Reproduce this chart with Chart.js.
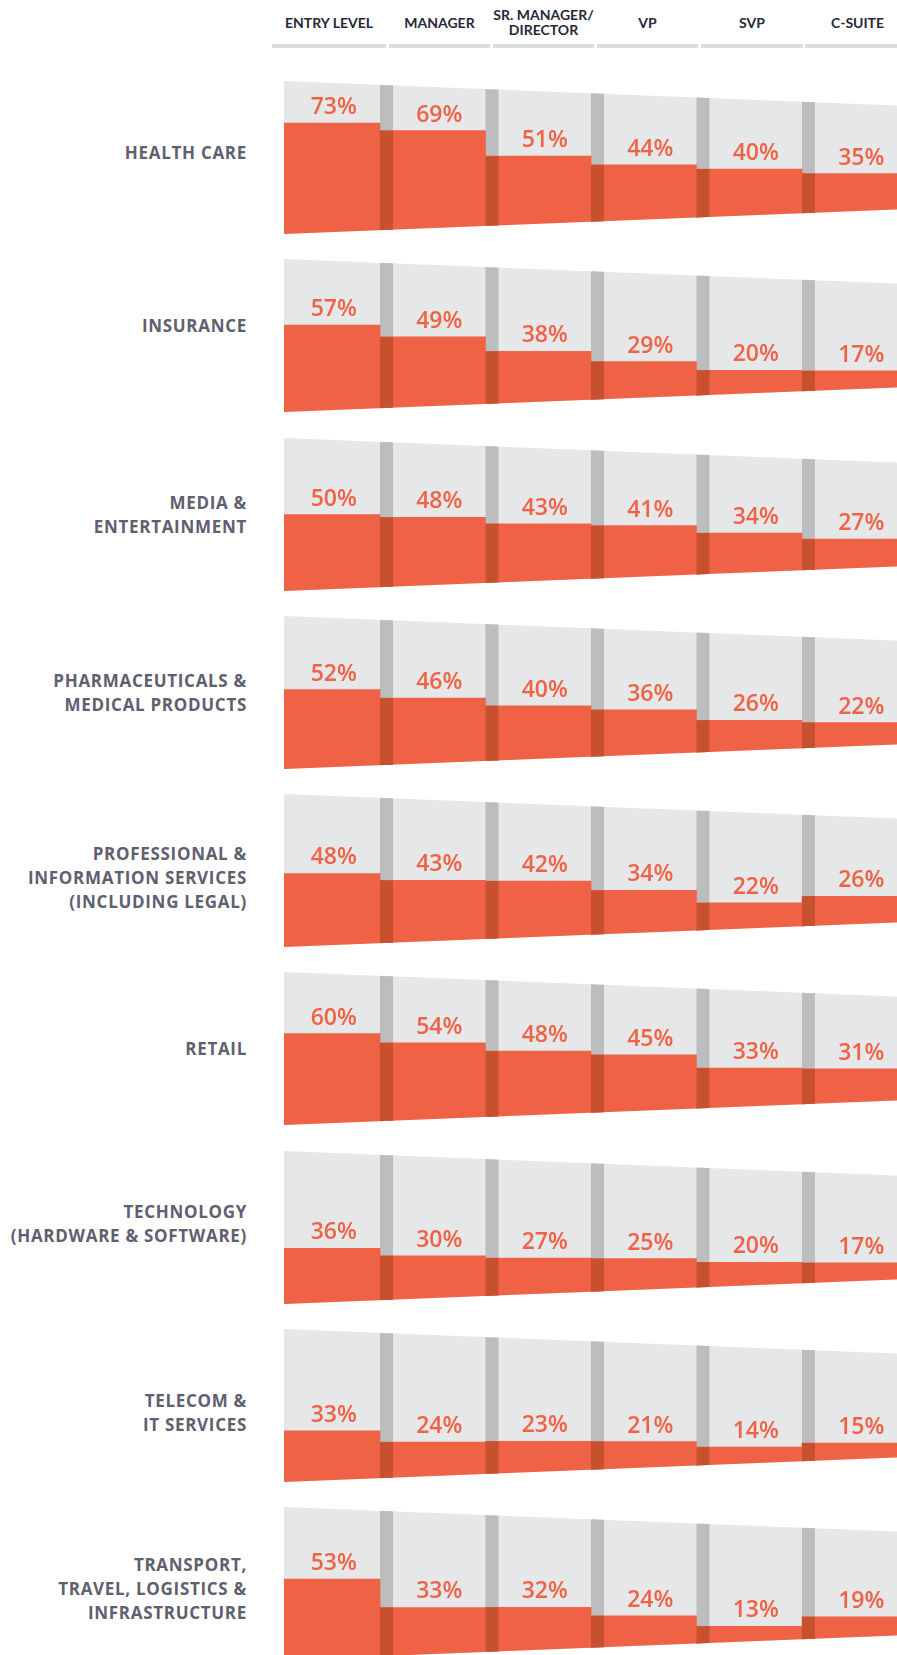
<!DOCTYPE html>
<html>
<head>
<meta charset="utf-8">
<script src="https://cdn.jsdelivr.net/npm/chart.js@4.4.0/dist/chart.umd.min.js"></script>
<style>
  html, body { margin: 0; padding: 0; background: #fff; }
  body { position: relative; width: 897px; height: 1655px; overflow: hidden; }
  .hdr { position: absolute; top: 0; height: 48px; }
  .hdr .txt {
    height: 44px; display: flex; align-items: center; justify-content: center; text-align: center;
    font: 700 14px/15px Lato, "Open Sans", sans-serif; color: #262939;
  }
  .hdr .bar { height: 3.5px; background: #dcddde; }
  .ind {
    position: absolute; right: 650px; text-align: right; white-space: nowrap;
    font: 700 17px/24px "Open Sans", sans-serif; letter-spacing: 0.7px; color: #5e6070;
    transform: translateY(-50%);
  }
  canvas.row { position: absolute; left: 0; }
</style>
</head>
<body>
<script>
// column headers and industry names
const levels = [['ENTRY LEVEL'], ['MANAGER'], ['SR. MANAGER/', 'DIRECTOR'], ['VP'], ['SVP'], ['C-SUITE']];
const industries = [
  ['HEALTH CARE'],
  ['INSURANCE'],
  ['MEDIA &', 'ENTERTAINMENT'],
  ['PHARMACEUTICALS &', 'MEDICAL PRODUCTS'],
  ['PROFESSIONAL &', 'INFORMATION SERVICES', '(INCLUDING LEGAL)'],
  ['RETAIL'],
  ['TECHNOLOGY', '(HARDWARE & SOFTWARE)'],
  ['TELECOM &', 'IT SERVICES'],
  ['TRANSPORT,', 'TRAVEL, LOGISTICS &', 'INFRASTRUCTURE']
];

// % per level, one array per industry
const healthCare = [73, 69, 51, 44, 40, 35];
const insurance = [57, 49, 38, 29, 20, 17];
const mediaEntertainment = [50, 48, 43, 41, 34, 27];
const pharma = [52, 46, 40, 36, 26, 22];
const professionalServices = [48, 43, 42, 34, 22, 26];
const retail = [60, 54, 48, 45, 33, 31];
const technology = [36, 30, 27, 25, 20, 17];
const telecom = [33, 24, 23, 21, 14, 15];
const transport = [53, 33, 32, 24, 13, 19];

const rows = [healthCare, insurance, mediaEntertainment, pharma, professionalServices,
  retail, technology, telecom, transport];

// layout
const ROW_TOP = 81, ROW_STEP = 178.25, PIPE_H = 153;
const CANVAS_W = 910, AREA_LEFT = 274.5, SLOT_W = 105.5;
const PIPE_INSET = 9.5, TAPER = 0.04, SEP_W = 13;
const labelNudge = [-5, -10, 0, 0, 7, 0, -4, 7, 5];
const GRAY = '#e6e7e8', GRAY_DARK = '#bcbdbf', ORANGE = '#f06245', ORANGE_DARK = '#c7512f';

// header
const hdrLefts = [272, 389, 493, 597, 701, 805];
const hdrWidths = [114, 101, 101, 101, 102, 105];
levels.forEach((lines, i) => {
  const d = document.createElement('div');
  d.className = 'hdr';
  d.style.left = hdrLefts[i] + 'px';
  d.style.width = hdrWidths[i] + 'px';
  d.innerHTML = `<div class="txt">${lines.join('<br>')}</div><div class="bar"></div>`;
  document.body.appendChild(d);
});

function pipeEdges(chart) {
  const a = chart.chartArea;
  const ys = chart.scales.y;
  const xL = a.left + PIPE_INSET, xR = a.right;
  const top = x => ys.getPixelForValue(100) + TAPER * (x - xL);
  const bot = x => ys.getPixelForValue(0) - TAPER * (x - xL);
  return { xL, xR, top, bot };
}

function tracePipe(ctx, p) {
  ctx.beginPath();
  ctx.moveTo(p.xL, p.top(p.xL));
  ctx.lineTo(p.xR, p.top(p.xR));
  ctx.lineTo(p.xR, p.bot(p.xR));
  ctx.lineTo(p.xL, p.bot(p.xL));
  ctx.closePath();
}

// top pixel of the orange bar for level i
function barTop(chart, i) {
  const v = chart.data.datasets[i].data[i];
  return chart.scales['y' + i].getPixelForValue(v);
}

const pipePlugin = {
  id: 'pipe',
  beforeDatasetsDraw(chart) {
    const ctx = chart.ctx;
    const p = pipeEdges(chart);
    ctx.save();
    tracePipe(ctx, p);
    ctx.fillStyle = GRAY;
    ctx.fill();
    ctx.clip();
    // darker flange at the start of each level after the first
    ctx.fillStyle = GRAY_DARK;
    for (let i = 1; i < levels.length; i++) {
      const el = chart.getDatasetMeta(i).data[i];
      const x = el.x - el.width / 2;
      ctx.fillRect(x, chart.chartArea.top, SEP_W, chart.chartArea.height);
    }
  },
  afterDatasetsDraw(chart) {
    const ctx = chart.ctx;
    ctx.fillStyle = ORANGE_DARK;
    for (let i = 1; i < levels.length; i++) {
      const el = chart.getDatasetMeta(i).data[i];
      const x = el.x - el.width / 2;
      const y = barTop(chart, i);
      ctx.fillRect(x, y, SEP_W, chart.chartArea.bottom - y);
    }
    ctx.restore();
    // value labels
    ctx.save();
    ctx.fillStyle = ORANGE;
    ctx.font = '600 23px "Open Sans"';
    ctx.textAlign = 'center';
    ctx.textBaseline = 'alphabetic';
    for (let i = 0; i < levels.length; i++) {
      const el = chart.getDatasetMeta(i).data[i];
      const v = chart.data.datasets[i].data[i];
      ctx.fillText(v + '%', el.x + SEP_W / 2, barTop(chart, i) - 9);
    }
    ctx.restore();
  }
};

// one y axis per level so 0..100 spans the pipe height at that column
function levelAxis(i) {
  const cx = AREA_LEFT + SLOT_W * (i + 0.5);
  const d = TAPER * (cx - (AREA_LEFT + PIPE_INSET));
  const range = 100 * PIPE_H / (PIPE_H - 2 * d);
  const min = -d * range / PIPE_H;
  return { type: 'linear', display: false, min: min, max: min + range };
}

rows.forEach((values, r) => {
  const top = Math.round(ROW_TOP + r * ROW_STEP);

  const lab = document.createElement('div');
  lab.className = 'ind';
  lab.style.top = (top + PIPE_H / 2 + labelNudge[r]) + 'px';
  lab.innerHTML = industries[r].join('<br>');
  document.body.appendChild(lab);

  const canvas = document.createElement('canvas');
  canvas.className = 'row';
  canvas.width = CANVAS_W;
  canvas.height = PIPE_H;
  canvas.style.top = top + 'px';
  document.body.appendChild(canvas);

  const scales = {
    x: { type: 'category', display: false, offset: true },
    y: { type: 'linear', display: false, min: 0, max: 100 }
  };
  levels.forEach((_, i) => { scales['y' + i] = levelAxis(i); });

  new Chart(canvas.getContext('2d'), {
    type: 'bar',
    data: {
      labels: levels.map(l => l.join(' ')),
      datasets: values.map((v, i) => ({
        label: levels[i].join(' '),
        data: values.map((_, j) => (j === i ? v : null)),
        base: -40,
        yAxisID: 'y' + i,
        grouped: false,
        backgroundColor: ORANGE,
        borderWidth: 0,
        categoryPercentage: 1,
        barPercentage: 1
      }))
    },
    options: {
      responsive: false,
      animation: false,
      layout: { padding: { left: AREA_LEFT, right: CANVAS_W - AREA_LEFT - SLOT_W * 6, top: 0, bottom: 0 } },
      plugins: { legend: { display: false }, tooltip: { enabled: false } },
      scales: scales
    },
    plugins: [pipePlugin]
  });
});
</script>
</body>
</html>
